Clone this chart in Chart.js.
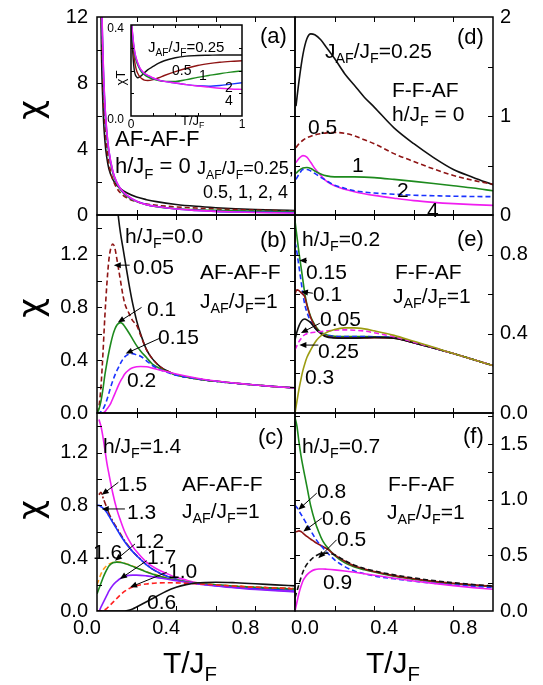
<!DOCTYPE html>
<html>
<head>
<meta charset="utf-8">
<script src="https://cdn.jsdelivr.net/npm/chart.js@4.4.0/dist/chart.umd.min.js"></script>
<style>
  body { margin: 0; background: #fff; }
  #fig { position: relative; width: 543px; height: 685px; overflow: hidden; background: #fff;
         font-family: "Liberation Sans", Arial, sans-serif; color: #000; }
  #fig canvas { position: absolute; }
  .t { position: absolute; font-size: 21px; line-height: 1; white-space: nowrap; }
  .t sub, .ttl sub { font-size: 0.68em; position: relative; top: 0.38em; vertical-align: baseline; line-height: 0; }
  .s18 { font-size: 18px; }
  .s15 { font-size: 15px; }
  .s14 { font-size: 14px; }
  .s13 { font-size: 13px; }
  .s22 { font-size: 22px; }
  .chi { position: absolute; font-family: "DejaVu Sans", sans-serif; font-size: 34px; line-height: 1;
         transform: translate(-50%, -50%) rotate(-90deg); }
  .ttl { position: absolute; font-size: 30px; line-height: 1; transform: translateX(-50%); white-space: nowrap; }
  .ichi { position: absolute; font-size: 13px; line-height: 1; transform: translate(-50%, -50%) rotate(-90deg); white-space: nowrap; }
</style>
</head>
<body>
<div id="fig">
  <canvas id="pA"></canvas>
  <canvas id="pD"></canvas>
  <canvas id="pB"></canvas>
  <canvas id="pE"></canvas>
  <canvas id="pC"></canvas>
  <canvas id="pF"></canvas>
  <canvas id="inset"></canvas>

  <!-- axis titles -->
  <div class="chi" style="left:30px;top:110px">χ</div>
  <div class="chi" style="left:30px;top:308px">χ</div>
  <div class="chi" style="left:30px;top:510px">χ</div>
  <div class="ttl" style="left:190px;top:648px">T/J<sub>F</sub></div>
  <div class="ttl" style="left:393px;top:648px">T/J<sub>F</sub></div>

  <!-- (a) -->
  <div class="t s22" style="left:260px;top:25px">(a)</div>
  <div class="t s22" style="left:115px;top:128px">AF-AF-F</div>
  <div class="t s22" style="left:115px;top:155px">h/J<sub>F</sub> = 0</div>
  <div class="t s18" style="left:197px;top:159px">J<sub>AF</sub>/J<sub>F</sub>=0.25,</div>
  <div class="t s18" style="left:203px;top:183px">0.5, 1, 2, 4</div>
  <div class="t s15" style="left:148px;top:39px">J<sub>AF</sub>/J<sub>F</sub>=0.25</div>
  <div class="t s14" style="left:172px;top:63px">0.5</div>
  <div class="t s14" style="left:199px;top:68px">1</div>
  <div class="t s14" style="left:225px;top:80px">2</div>
  <div class="t s14" style="left:225px;top:93px">4</div>
  <div class="ichi" style="left:120px;top:78px">χT</div>
  <div class="t s13" style="left:181px;top:114px">T/J<sub>F</sub></div>

  <!-- (d) -->
  <div class="t s22" style="left:457px;top:26px">(d)</div>
  <div class="t" style="left:325px;top:40px">J<sub>AF</sub>/J<sub>F</sub>=0.25</div>
  <div class="t" style="left:392px;top:79px">F-F-AF</div>
  <div class="t" style="left:392px;top:103px">h/J<sub>F</sub> = 0</div>
  <div class="t" style="left:308px;top:116px">0.5</div>
  <div class="t" style="left:352px;top:154px">1</div>
  <div class="t" style="left:397px;top:179px">2</div>
  <div class="t" style="left:427px;top:199px">4</div>

  <!-- (b) -->
  <div class="t s22" style="left:260px;top:229px">(b)</div>
  <div class="t" style="left:125px;top:225px">h/J<sub>F</sub>=0.0</div>
  <div class="t" style="left:133px;top:256px">0.05</div>
  <div class="t" style="left:200px;top:261px">AF-AF-F</div>
  <div class="t" style="left:200px;top:290px">J<sub>AF</sub>/J<sub>F</sub>=1</div>
  <div class="t" style="left:147px;top:298px">0.1</div>
  <div class="t" style="left:158px;top:326px">0.15</div>
  <div class="t" style="left:127px;top:369px">0.2</div>

  <!-- (e) -->
  <div class="t s22" style="left:457px;top:228px">(e)</div>
  <div class="t" style="left:302px;top:228px">h/J<sub>F</sub>=0.2</div>
  <div class="t" style="left:306px;top:261px">0.15</div>
  <div class="t" style="left:395px;top:261px">F-F-AF</div>
  <div class="t" style="left:313px;top:283px">0.1</div>
  <div class="t" style="left:393px;top:285px">J<sub>AF</sub>/J<sub>F</sub>=1</div>
  <div class="t" style="left:320px;top:308px">0.05</div>
  <div class="t" style="left:318px;top:340px">0.25</div>
  <div class="t" style="left:305px;top:366px">0.3</div>

  <!-- (c) -->
  <div class="t s22" style="left:258px;top:426px">(c)</div>
  <div class="t" style="left:103px;top:435px">h/J<sub>F</sub>=1.4</div>
  <div class="t" style="left:118px;top:473px">1.5</div>
  <div class="t" style="left:182px;top:473px">AF-AF-F</div>
  <div class="t" style="left:127px;top:501px">1.3</div>
  <div class="t" style="left:182px;top:500px">J<sub>AF</sub>/J<sub>F</sub>=1</div>
  <div class="t" style="left:135px;top:530px">1.2</div>
  <div class="t" style="left:93px;top:541px">1.6</div>
  <div class="t" style="left:147px;top:546px">1.7</div>
  <div class="t" style="left:168px;top:560px">1.0</div>
  <div class="t" style="left:147px;top:591px">0.6</div>

  <!-- (f) -->
  <div class="t s22" style="left:463px;top:425px">(f)</div>
  <div class="t" style="left:302px;top:435px">h/J<sub>F</sub>=0.7</div>
  <div class="t" style="left:388px;top:473px">F-F-AF</div>
  <div class="t" style="left:387px;top:501px">J<sub>AF</sub>/J<sub>F</sub>=1</div>
  <div class="t" style="left:317px;top:480px">0.8</div>
  <div class="t" style="left:322px;top:507px">0.6</div>
  <div class="t" style="left:337px;top:528px">0.5</div>
  <div class="t" style="left:323px;top:571px">0.9</div>
</div>

<script>
// susceptibility curves chi(T) for the three-sublattice chains

// (a) AF-AF-F, h/JF = 0 : main chi and inset chi*T, JAF/JF = 0.25, 0.5, 1, 2, 4
const tempsA = [0.005, 0.01, 0.02, 0.03, 0.04, 0.05, 0.06, 0.08, 0.1, 0.12, 0.15, 0.2, 0.25, 0.3, 0.4, 0.5, 0.6, 0.7, 0.8, 0.9, 1.0];
const chiA_025 = [78, 33, 12.5, 6.7, 4.5, 3.44, 2.8, 2.15, 1.8, 1.58, 1.35, 1.09, 0.93, 0.81, 0.64, 0.526, 0.443, 0.381, 0.335, 0.298, 0.268];
const chiA_05 = [80, 36, 15, 8.3, 5.5, 4.0, 3.13, 2.15, 1.63, 1.32, 1.04, 0.8, 0.67, 0.59, 0.49, 0.42, 0.37, 0.33, 0.295, 0.267, 0.243];
const chiA_1 = [80, 37, 16, 9.3, 6.4, 4.76, 3.75, 2.56, 1.9, 1.52, 1.15, 0.81, 0.62, 0.51, 0.38, 0.32, 0.283, 0.254, 0.233, 0.214, 0.198];
const chiA_2 = [80, 38, 16.5, 9.7, 6.6, 4.94, 3.87, 2.63, 1.96, 1.56, 1.19, 0.83, 0.63, 0.51, 0.36, 0.28, 0.22, 0.187, 0.168, 0.156, 0.146];
const chiA_4 = [80, 38.5, 16.8, 9.8, 6.7, 5.0, 3.92, 2.65, 1.98, 1.57, 1.2, 0.835, 0.63, 0.51, 0.36, 0.28, 0.22, 0.18, 0.153, 0.132, 0.117];
const chiTA_025 = [0.39, 0.33, 0.25, 0.2, 0.18, 0.172, 0.168, 0.172, 0.18, 0.19, 0.203, 0.218, 0.232, 0.243, 0.256, 0.263, 0.266, 0.267, 0.268, 0.268, 0.268];
const chiTA_05 = [0.4, 0.36, 0.3, 0.25, 0.22, 0.2, 0.188, 0.172, 0.163, 0.158, 0.156, 0.16, 0.168, 0.178, 0.195, 0.21, 0.222, 0.23, 0.236, 0.24, 0.243];
const chiTA_1 = [0.4, 0.37, 0.32, 0.28, 0.255, 0.238, 0.225, 0.205, 0.19, 0.182, 0.172, 0.162, 0.156, 0.152, 0.152, 0.16, 0.17, 0.178, 0.186, 0.193, 0.198];
const chiTA_2 = [0.4, 0.38, 0.33, 0.29, 0.265, 0.247, 0.232, 0.21, 0.196, 0.187, 0.178, 0.166, 0.158, 0.152, 0.145, 0.138, 0.133, 0.131, 0.134, 0.14, 0.146];
const chiTA_4 = [0.4, 0.385, 0.335, 0.295, 0.268, 0.25, 0.235, 0.212, 0.198, 0.188, 0.18, 0.167, 0.158, 0.152, 0.145, 0.138, 0.132, 0.127, 0.122, 0.119, 0.117];

// (d) F-F-AF, h/JF = 0
const tempsD = [0.005, 0.02, 0.04, 0.06, 0.08, 0.1, 0.13, 0.16, 0.2, 0.25, 0.3, 0.35, 0.4, 0.5, 0.6, 0.7, 0.8, 0.9, 1.0];
const chiD_025 = [1.1, 1.35, 1.62, 1.78, 1.83, 1.82, 1.77, 1.69, 1.58, 1.43, 1.31, 1.19, 1.09, 0.88, 0.72, 0.58, 0.46, 0.38, 0.305];
const chiD_05 = [0.68, 0.72, 0.755, 0.78, 0.795, 0.81, 0.822, 0.83, 0.834, 0.825, 0.8, 0.76, 0.72, 0.62, 0.54, 0.465, 0.4, 0.35, 0.31];
const chiD_1 = [0.42, 0.45, 0.475, 0.48, 0.47, 0.445, 0.415, 0.395, 0.385, 0.385, 0.385, 0.383, 0.378, 0.36, 0.34, 0.318, 0.295, 0.272, 0.245];
const chiD_2 = [0.36, 0.41, 0.46, 0.46, 0.445, 0.42, 0.38, 0.345, 0.3, 0.27, 0.245, 0.232, 0.222, 0.21, 0.2, 0.195, 0.19, 0.187, 0.185];
const chiD_4 = [0.53, 0.57, 0.6, 0.585, 0.53, 0.47, 0.4, 0.34, 0.295, 0.26, 0.235, 0.215, 0.198, 0.17, 0.145, 0.128, 0.115, 0.105, 0.097];

// (b) AF-AF-F, JAF/JF = 1, h/JF = 0 ... 0.2
const tempsB = [0, 0.01, 0.02, 0.03, 0.04, 0.05, 0.06, 0.07, 0.08, 0.09, 0.1, 0.11, 0.12, 0.13, 0.14, 0.16, 0.18, 0.2, 0.22, 0.25, 0.28, 0.32, 0.36, 0.4, 0.5, 0.6, 0.7, 0.8, 0.9, 1.0];
const chiB_00 = [null, 40, 16, 9.3, 6.4, 4.8, 3.75, 2.9, 2.3, 1.9, 1.62, 1.46, 1.35, 1.26, 1.17, 0.99, 0.83, 0.7, 0.6, 0.48, 0.41, 0.35, 0.315, 0.29, 0.26, 0.24, 0.225, 0.212, 0.2, 0.19];
const chiB_005 = [0, 0.05, 0.2, 0.45, 0.74, 0.98, 1.16, 1.25, 1.28, 1.25, 1.17, 1.08, 0.99, 0.9, 0.83, 0.76, 0.7, 0.665, 0.59, 0.48, 0.41, 0.35, 0.315, 0.29, 0.26, 0.24, 0.225, 0.212, 0.2, 0.19];
const chiB_01 = [0, 0.03, 0.09, 0.18, 0.29, 0.38, 0.46, 0.53, 0.59, 0.635, 0.665, 0.68, 0.685, 0.675, 0.655, 0.61, 0.56, 0.51, 0.47, 0.42, 0.37, 0.335, 0.31, 0.288, 0.26, 0.24, 0.225, 0.212, 0.2, 0.19];
const chiB_015 = [0, 0, 0.01, 0.03, 0.06, 0.1, 0.15, 0.2, 0.245, 0.285, 0.32, 0.35, 0.38, 0.405, 0.425, 0.445, 0.45, 0.44, 0.43, 0.395, 0.36, 0.328, 0.305, 0.286, 0.26, 0.24, 0.225, 0.212, 0.2, 0.19];
const chiB_02 = [0, 0, 0, 0, 0.01, 0.03, 0.05, 0.075, 0.11, 0.145, 0.18, 0.215, 0.245, 0.27, 0.295, 0.325, 0.342, 0.35, 0.352, 0.35, 0.34, 0.325, 0.31, 0.295, 0.265, 0.242, 0.226, 0.212, 0.2, 0.19];

// (e) F-F-AF, JAF/JF = 1, h/JF = 0.05 ... 0.3
const tempsE = [0, 0.005, 0.01, 0.02, 0.03, 0.04, 0.05, 0.06, 0.08, 0.1, 0.12, 0.15, 0.2, 0.25, 0.3, 0.35, 0.4, 0.5, 0.6, 0.7, 0.8, 0.9, 1.0];
const chiE_02 = [0.97, 0.93, 0.89, 0.81, 0.74, 0.67, 0.6, 0.55, 0.485, 0.445, 0.418, 0.398, 0.388, 0.386, 0.386, 0.386, 0.385, 0.38, 0.355, 0.328, 0.3, 0.27, 0.24];
const chiE_015 = [0.86, 0.84, 0.81, 0.74, 0.67, 0.6, 0.545, 0.51, 0.46, 0.43, 0.41, 0.395, 0.387, 0.386, 0.386, 0.386, 0.385, 0.38, 0.355, 0.328, 0.3, 0.27, 0.24];
const chiE_01 = [0.6, 0.615, 0.622, 0.618, 0.608, 0.6, 0.585, 0.545, 0.48, 0.44, 0.412, 0.39, 0.38, 0.378, 0.378, 0.379, 0.38, 0.378, 0.355, 0.328, 0.3, 0.27, 0.24];
const chiE_005 = [0.37, 0.39, 0.41, 0.44, 0.46, 0.472, 0.475, 0.47, 0.455, 0.43, 0.41, 0.388, 0.379, 0.378, 0.378, 0.38, 0.382, 0.378, 0.355, 0.328, 0.3, 0.27, 0.24];
const chiE_025 = [0.32, 0.33, 0.34, 0.36, 0.375, 0.388, 0.396, 0.4, 0.405, 0.408, 0.41, 0.414, 0.418, 0.42, 0.418, 0.414, 0.405, 0.385, 0.358, 0.33, 0.3, 0.27, 0.24];
const chiE_03 = [0, 0.03, 0.06, 0.12, 0.17, 0.215, 0.25, 0.28, 0.32, 0.355, 0.38, 0.402, 0.422, 0.43, 0.43, 0.425, 0.415, 0.392, 0.362, 0.332, 0.3, 0.27, 0.24];

// (c) AF-AF-F, JAF/JF = 1, h/JF = 0.6 ... 1.7
const tempsC = [0, 0.01, 0.02, 0.03, 0.04, 0.05, 0.06, 0.08, 0.1, 0.12, 0.14, 0.16, 0.18, 0.2, 0.25, 0.3, 0.35, 0.4, 0.45, 0.5, 0.6, 0.7, 0.8, 0.9, 1.0];
const chiC_14 = [null, 1.45, 1.4, 1.32, 1.22, 1.12, 1.04, 0.89, 0.77, 0.68, 0.6, 0.54, 0.49, 0.45, 0.37, 0.32, 0.285, 0.255, 0.235, 0.215, 0.195, 0.18, 0.168, 0.158, 0.15];
const chiC_15 = [null, 0.88, 0.9, 0.86, 0.82, 0.78, 0.74, 0.68, 0.63, 0.58, 0.53, 0.49, 0.45, 0.42, 0.35, 0.3, 0.265, 0.24, 0.22, 0.208, 0.195, 0.187, 0.18, 0.175, 0.17];
const chiC_13 = [0.8, 0.8, 0.79, 0.78, 0.765, 0.745, 0.72, 0.67, 0.62, 0.57, 0.525, 0.485, 0.45, 0.42, 0.35, 0.3, 0.265, 0.24, 0.222, 0.21, 0.192, 0.18, 0.172, 0.165, 0.16];
const chiC_12 = [0.13, 0.17, 0.21, 0.25, 0.285, 0.315, 0.34, 0.365, 0.37, 0.368, 0.36, 0.35, 0.338, 0.325, 0.295, 0.27, 0.25, 0.235, 0.222, 0.212, 0.198, 0.188, 0.18, 0.173, 0.167];
const chiC_16 = [0.2, 0.24, 0.28, 0.31, 0.33, 0.345, 0.355, 0.368, 0.372, 0.37, 0.362, 0.352, 0.34, 0.328, 0.298, 0.272, 0.252, 0.236, 0.223, 0.213, 0.199, 0.189, 0.181, 0.174, 0.168];
const chiC_17 = [0, 0, 0.03, 0.06, 0.09, 0.12, 0.15, 0.195, 0.225, 0.248, 0.262, 0.27, 0.272, 0.272, 0.266, 0.255, 0.242, 0.23, 0.218, 0.207, 0.19, 0.175, 0.163, 0.153, 0.145];
const chiC_10 = [0, 0, 0, 0, 0.01, 0.02, 0.035, 0.065, 0.095, 0.125, 0.15, 0.168, 0.182, 0.192, 0.205, 0.212, 0.214, 0.213, 0.21, 0.206, 0.197, 0.188, 0.18, 0.174, 0.168];
const chiC_06 = [0, 0, 0, 0, 0, 0, 0, 0, 0, 0, 0, 0.005, 0.015, 0.03, 0.07, 0.11, 0.15, 0.18, 0.2, 0.212, 0.218, 0.214, 0.207, 0.198, 0.19];

// (f) F-F-AF, JAF/JF = 1, h/JF = 0.5 ... 0.9
const tempsF = [0, 0.01, 0.02, 0.03, 0.04, 0.05, 0.06, 0.08, 0.1, 0.12, 0.14, 0.16, 0.2, 0.25, 0.3, 0.35, 0.4, 0.5, 0.6, 0.7, 0.8, 0.9, 1.0];
const chiF_07 = [1.74, 1.66, 1.52, 1.4, 1.3, 1.21, 1.12, 0.94, 0.81, 0.71, 0.63, 0.58, 0.5, 0.435, 0.395, 0.37, 0.35, 0.312, 0.285, 0.262, 0.245, 0.23, 0.218];
const chiF_08 = [0.95, 0.93, 0.9, 0.87, 0.84, 0.81, 0.78, 0.72, 0.66, 0.61, 0.57, 0.53, 0.46, 0.4, 0.36, 0.335, 0.315, 0.29, 0.268, 0.25, 0.235, 0.222, 0.21];
const chiF_06 = [0.71, 0.715, 0.72, 0.715, 0.7, 0.685, 0.67, 0.645, 0.62, 0.6, 0.58, 0.56, 0.505, 0.45, 0.405, 0.378, 0.355, 0.318, 0.29, 0.268, 0.25, 0.235, 0.222];
const chiF_05 = [0.12, 0.18, 0.24, 0.3, 0.35, 0.39, 0.42, 0.46, 0.49, 0.51, 0.52, 0.52, 0.505, 0.455, 0.412, 0.382, 0.36, 0.325, 0.297, 0.273, 0.254, 0.238, 0.225];
const chiF_09 = [0, 0.08, 0.16, 0.22, 0.27, 0.3, 0.325, 0.355, 0.372, 0.378, 0.378, 0.376, 0.37, 0.36, 0.348, 0.335, 0.322, 0.295, 0.27, 0.248, 0.228, 0.21, 0.195];

// tick labels and tick marks
const xLabels = [0, 0.4, 0.8];
const xMarks = [0.2, 0.4, 0.6, 0.8];
const yLabelsA = [0, 4, 8, 12], yMarksA = [2, 4, 6, 8, 10];
const yLabelsD = [0, 1, 2], yMarksD = [0.5, 1, 1.5];
const yLabelsBC = [0, 0.4, 0.8, 1.2], yMarksBC = [0.2, 0.4, 0.6, 0.8, 1.0, 1.2, 1.4];
const yLabelsE = [0, 0.4, 0.8], yMarksE = [0.2, 0.4, 0.6, 0.8];
const yLabelsF = [0, 0.5, 1.0, 1.5], yMarksF = [0.25, 0.5, 0.75, 1.0, 1.25, 1.5, 1.75];
const insetXLabels = [0, 1], insetYLabels = [0, 0.4];

// pointer arrows [fromT, fromChi, toT, toChi]
const arrowsB = [[0.165, 1.12, 0.085, 1.12], [0.225, 0.8, 0.105, 0.685], [0.315, 0.565, 0.145, 0.45]];
const arrowsE = [[0.06, 0.77, 0.022, 0.77], [0.09, 0.605, 0.03, 0.613], [0.125, 0.453, 0.03, 0.404], [0.118, 0.343, 0.022, 0.343]];
const arrowsC = [[0.108, 0.975, 0.024, 0.88], [0.141, 0.773, 0.024, 0.773], [0.192, 0.508, 0.091, 0.381], [0.251, 0.381, 0.116, 0.242], [0.352, 0.293, 0.167, 0.18]];
const arrowsF = [[0.11, 1.06, 0.017, 0.91], [0.135, 0.835, 0.042, 0.714], [0.21, 0.64, 0.118, 0.475]];

const FONT = '"Liberation Sans", Arial, sans-serif';
const BLACK = '#111111', DARKRED = '#8e1414', GREEN = '#1d8a1d', BLUE = '#1a33ff',
      MAGENTA = '#f01ef0', OLIVE = '#9c9c12', ORANGE = '#ff9c1c', PURPLE = '#8c1cff', RED = '#ff2020';
const DASH = [5, 3];
const ROW_TOP = [17, 215, 413];
const PANEL_H = 198;
const PAD = 26;   // room above/below each plot box for the y tick labels

function curve(temps, values, color, dash) {
  return {
    data: temps.map((t, i) => ({ x: t, y: values[i] })).filter(p => p.y !== null),
    borderColor: color,
    borderWidth: 1.6,
    borderDash: dash || [],
    pointRadius: 0,
    fill: false,
    cubicInterpolationMode: 'monotone'
  };
}

function drawArrow(ctx, x0, y0, x1, y1) {
  const a = Math.atan2(y1 - y0, x1 - x0);
  const c = Math.cos(a), s = Math.sin(a);
  ctx.beginPath();
  ctx.moveTo(x0, y0);
  ctx.lineTo(x1 - 5 * c, y1 - 5 * s);
  ctx.stroke();
  ctx.beginPath();
  ctx.moveTo(x1, y1);
  ctx.lineTo(x1 - 7 * c + 3 * s, y1 - 7 * s - 3 * c);
  ctx.lineTo(x1 - 7 * c - 3 * s, y1 - 7 * s + 3 * c);
  ctx.closePath();
  ctx.fill();
}

// box frame, inward ticks on all four sides, pointer arrows
const frameTicks = {
  id: 'frameTicks',
  beforeDatasetsDraw(chart, args, opts) {
    if (!opts.whiteBox) return;
    const a = chart.chartArea;
    chart.ctx.save();
    chart.ctx.fillStyle = '#fff';
    chart.ctx.fillRect(a.left, a.top, a.width, a.height);
    chart.ctx.restore();
  },
  afterDatasetsDraw(chart, args, opts) {
    const { ctx, chartArea: a } = chart;
    const x = chart.scales.x, y = chart.scales.y;
    const L = opts.tickLen || 5;
    const left = Math.round(a.left), right = Math.round(a.right);
    const top = Math.round(a.top), bottom = Math.round(a.bottom);
    ctx.save();
    ctx.strokeStyle = '#000';
    ctx.fillStyle = '#000';
    ctx.lineWidth = 1;
    ctx.beginPath();
    (opts.xMarks || []).forEach(v => {
      const px = Math.round(x.getPixelForValue(v)) + 0.5;
      ctx.moveTo(px, bottom); ctx.lineTo(px, bottom - L);
      ctx.moveTo(px, top); ctx.lineTo(px, top + L);
    });
    (opts.yMarks || []).forEach(v => {
      const py = Math.round(y.getPixelForValue(v)) + 0.5;
      ctx.moveTo(left, py); ctx.lineTo(left + L, py);
      ctx.moveTo(right, py); ctx.lineTo(right - L, py);
    });
    ctx.stroke();
    (opts.arrows || []).forEach(r => {
      drawArrow(ctx, x.getPixelForValue(r[0]), y.getPixelForValue(r[1]),
                     x.getPixelForValue(r[2]), y.getPixelForValue(r[3]));
    });
    ctx.lineWidth = 1.5;
    ctx.strokeRect(left, top, right - left, bottom - top);
    ctx.restore();
  }
};

function buildPanel(id, col, row, yMax, yLabels, yMarks, datasets, arrows, fmt) {
  const canvas = document.getElementById(id);
  const bottomRow = row === 2;
  const width = col === 0 ? 300 : 268;
  const height = PAD + PANEL_H + (bottomRow ? 74 : PAD);
  canvas.width = width;
  canvas.height = height;
  canvas.style.left = (col === 0 ? 0 : 275) + 'px';
  canvas.style.top = (ROW_TOP[row] - PAD) + 'px';
  const pad = col === 0
    ? { left: 0, right: 5, top: PAD, bottom: bottomRow ? 0 : PAD }
    : { left: 20, right: 0, top: PAD, bottom: bottomRow ? 0 : PAD };
  return new Chart(canvas, {
    type: 'line',
    data: { datasets },
    options: {
      responsive: false,
      animation: false,
      events: [],
      layout: { padding: pad },
      plugins: {
        legend: { display: false },
        tooltip: { enabled: false },
        frameTicks: { xMarks, yMarks, arrows }
      },
      scales: {
        x: {
          type: 'linear', min: 0, max: 1,
          grid: { display: false, drawTicks: false },
          border: { display: false },
          afterBuildTicks: s => { s.ticks = xLabels.map(v => ({ value: v })); },
          afterFit: s => { s.height = bottomRow ? 74 : 0; },
          ticks: {
            display: bottomRow,
            font: { family: FONT, size: 20 }, color: '#000', padding: 5,
            labelOffset: col === 0 ? -10 : 10, maxRotation: 0, autoSkip: false,
            callback: v => v.toFixed(1)
          }
        },
        y: {
          type: 'linear', min: 0, max: yMax, position: col === 0 ? 'left' : 'right',
          grid: { display: false, drawTicks: false },
          border: { display: false },
          afterBuildTicks: s => { s.ticks = yLabels.map(v => ({ value: v })); },
          afterFit: s => { s.width = col === 0 ? 97 : 50; },
          ticks: {
            font: { family: FONT, size: 20 }, color: '#000', padding: col === 0 ? 9 : 7,
            autoSkip: false, callback: fmt
          }
        }
      }
    },
    plugins: [frameTicks]
  });
}

const int = v => String(v);
const one = v => v.toFixed(1);

buildPanel('pA', 0, 0, 12, yLabelsA, yMarksA, [
  curve(tempsA, chiA_4, MAGENTA),
  curve(tempsA, chiA_2, BLUE),
  curve(tempsA, chiA_1, GREEN),
  curve(tempsA, chiA_05, DARKRED, DASH),
  curve(tempsA, chiA_025, BLACK)
], [], int);

buildPanel('pD', 1, 0, 2, yLabelsD, yMarksD, [
  curve(tempsD, chiD_2, BLUE, DASH),
  curve(tempsD, chiD_1, GREEN),
  curve(tempsD, chiD_4, MAGENTA),
  curve(tempsD, chiD_05, DARKRED, DASH),
  curve(tempsD, chiD_025, BLACK)
], [], int);

buildPanel('pB', 0, 1, 1.5, yLabelsBC, yMarksBC, [
  curve(tempsB, chiB_02, MAGENTA),
  curve(tempsB, chiB_015, BLUE, DASH),
  curve(tempsB, chiB_01, GREEN),
  curve(tempsB, chiB_005, DARKRED, DASH),
  curve(tempsB, chiB_00, BLACK)
], arrowsB, one);

buildPanel('pE', 1, 1, 1.0, yLabelsE, yMarksE, [
  curve(tempsE, chiE_03, OLIVE),
  curve(tempsE, chiE_025, MAGENTA, DASH),
  curve(tempsE, chiE_005, BLACK),
  curve(tempsE, chiE_01, DARKRED),
  curve(tempsE, chiE_015, BLUE, DASH),
  curve(tempsE, chiE_02, GREEN)
], arrowsE, one);

buildPanel('pC', 0, 2, 1.5, yLabelsBC, yMarksBC, [
  curve(tempsC, chiC_06, BLACK),
  curve(tempsC, chiC_10, RED, DASH),
  curve(tempsC, chiC_17, PURPLE),
  curve(tempsC, chiC_12, GREEN),
  curve(tempsC, chiC_16, ORANGE, DASH),
  curve(tempsC, chiC_13, BLUE),
  curve(tempsC, chiC_15, DARKRED, [6, 2, 2, 2]),
  curve(tempsC, chiC_14, MAGENTA)
], arrowsC, one);

buildPanel('pF', 1, 2, 1.78, yLabelsF, yMarksF, [
  curve(tempsF, chiF_09, MAGENTA),
  curve(tempsF, chiF_05, BLACK, DASH),
  curve(tempsF, chiF_08, BLUE, DASH),
  curve(tempsF, chiF_06, DARKRED),
  curve(tempsF, chiF_07, GREEN)
], arrowsF, one);

// inset of (a): chi*T versus T
(function buildInset() {
  const canvas = document.getElementById('inset');
  canvas.width = 152;
  canvas.height = 122;
  canvas.style.left = '95px';
  canvas.style.top = '10px';
  new Chart(canvas, {
    type: 'line',
    data: {
      datasets: [
        curve(tempsA, chiTA_4, MAGENTA),
        curve(tempsA, chiTA_2, BLUE),
        curve(tempsA, chiTA_1, GREEN),
        curve(tempsA, chiTA_05, DARKRED),
        curve(tempsA, chiTA_025, BLACK)
      ].map(d => Object.assign(d, { borderWidth: 1.4 }))
    },
    options: {
      responsive: false,
      animation: false,
      events: [],
      layout: { padding: { left: 0, right: 5, top: 15, bottom: 0 } },
      plugins: {
        legend: { display: false },
        tooltip: { enabled: false },
        frameTicks: { xMarks: [0.2, 0.4, 0.6, 0.8], yMarks: [0.1, 0.2, 0.3], tickLen: 3, whiteBox: true }
      },
      scales: {
        x: {
          type: 'linear', min: 0, max: 1,
          grid: { display: false, drawTicks: false },
          border: { display: false },
          afterBuildTicks: s => { s.ticks = insetXLabels.map(v => ({ value: v })); },
          afterFit: s => { s.height = 16; },
          ticks: { font: { family: FONT, size: 12 }, color: '#000', padding: 1, maxRotation: 0, autoSkip: false, callback: v => String(v) }
        },
        y: {
          type: 'linear', min: 0, max: 0.4,
          grid: { display: false, drawTicks: false },
          border: { display: false },
          afterBuildTicks: s => { s.ticks = insetYLabels.map(v => ({ value: v })); },
          afterFit: s => { s.width = 36; },
          ticks: { font: { family: FONT, size: 12 }, color: '#000', padding: 7, labelOffset: 4, autoSkip: false, callback: v => v.toFixed(1) }
        }
      }
    },
    plugins: [frameTicks]
  });
})();
</script>
</body>
</html>
